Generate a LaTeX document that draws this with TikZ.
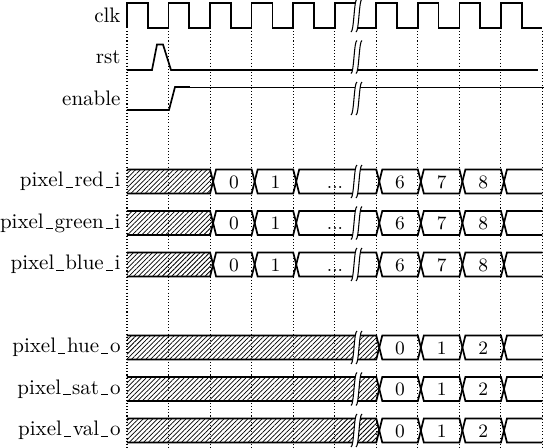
\documentclass[tikz,border=0pt]{standalone}
\usetikzlibrary{patterns.meta}
\tikzset{
  sig/.style={line width=0.8pt},
  thinsig/.style={line width=0.4pt},
  tick/.style={densely dotted, line width=0.5pt},
  hatch/.style={pattern={Lines[angle=45,distance=1.6pt,line width=0.35pt]}},
  lbl/.style={anchor=east, inner sep=0pt},
  val/.style={font=\small, inner sep=0pt, text height=0.65em, text depth=0pt},
  brk/.style={line width=0.5pt},
  pics/gap/.style={code={
    \fill[white] (-5.5,#1) .. controls (-2.5,#1) and (-2.5,-#1) .. (0.5,-#1)
      -- (5.5,-#1) .. controls (2.5,-#1) and (2.5,#1) .. (-0.5,#1) -- cycle;
    \draw[brk] (-5.5,#1) .. controls (-2.5,#1) and (-2.5,-#1) .. (0.5,-#1);
    \draw[brk] (-0.5,#1) .. controls (2.5,#1) and (2.5,-#1) .. (5.5,-#1);
  }}
}
% short underscore for the signal names
\newcommand{\lowbar}{\kern.1em\vrule width .34em height 0pt depth .45pt\kern.08em}
% one value of a bus: from, to, row centre, text, name
\newcommand{\busval}[5]{%
  \draw[sig] ({#1+3},#3) -- ({#1+6},#3-12) -- (#2,#3-12) -- ({#2+3},#3)
    -- (#2,#3+12) -- ({#1+6},#3+12) -- cycle;
  \node[val] (#5) at ({(#1+#2)/2+3},#3) {#4};
}

\begin{document}
\begin{tikzpicture}[x=0.476pt, y=-0.476pt]
  \useasboundingbox (0,0) rectangle (544,448);

  % clock ticks
  \foreach \k in {0,...,10}
    \draw[tick] ({127+41.55*\k},31) -- ({127+41.55*\k},448);

  % labels
  \node[lbl] (clk) at (121,15.5) {clk};
  \node[lbl] (rst) at (121,57) {rst};
  \node[lbl] (enable) at (121,98.5) {enable};
  \node[lbl] (red) at (121,181.5) {pixel\lowbar red\lowbar i};
  \node[lbl] (green) at (121,223) {pixel\lowbar green\lowbar i};
  \node[lbl] (blue) at (121,264.5) {pixel\lowbar blue\lowbar i};
  \node[lbl] (hue) at (121,347.5) {pixel\lowbar hue\lowbar o};
  \node[lbl] (sat) at (121,389) {pixel\lowbar sat\lowbar o};
  \node[lbl] (val) at (121,430.5) {pixel\lowbar val\lowbar o};

  % clk, rst, enable
  \draw[sig] (127,28) \foreach \k in {0,...,4} {
      -- ++(0,-25) -- ++(20.775,0) -- ++(0,25) -- ++(20.775,0) }
    -- ++(0,-25) -- ++(23,0);
  \draw[sig] (353,28) -- (376.3,28) \foreach \k in {1,...,4} {
      -- ++(0,-25) -- ++(20.775,0) -- ++(0,25) -- ++(20.775,0) };
  \draw[sig] (127,70) -- (152,70) -- (157,44.5) -- (163,44.5) -- (171,70) -- (538,70);
  \draw[sig] (127,110) -- (169,110) -- (175,87) -- (190,87);
  \draw[thinsig] (190,87) -- (544,87);
  \pic at (356.5,15.5) {gap=16.5};
  \pic at (356.5,57) {gap=16.5};
  \pic at (356.5,98.5) {gap=16.5};

  % input pixels
  \foreach \yc/\nm in {181.5/r, 223/g, 264.5/b} {
    \path[hatch] (127,\yc-12) -- (210.1,\yc-12) -- (213.1,\yc) -- (210.1,\yc+12) -- (127,\yc+12) -- cycle;
    \draw[sig] (127,\yc-12) -- (210.1,\yc-12) -- (213.1,\yc) -- (210.1,\yc+12) -- (127,\yc+12);
    \busval{210.1}{251.65}{\yc}{0}{\nm0}
    \busval{251.65}{293.2}{\yc}{1}{\nm1}
    \busval{293.2}{376.3}{\yc}{}{\nm gap}
    \node[val] (\nm dots) at (335,\yc) {...};
    \busval{376.3}{417.85}{\yc}{6}{\nm6}
    \busval{417.85}{459.4}{\yc}{7}{\nm7}
    \busval{459.4}{500.95}{\yc}{8}{\nm8}
    \draw[sig] (542.5,\yc-12) -- (506.95,\yc-12) -- (503.95,\yc) -- (506.95,\yc+12) -- (542.5,\yc+12);
    \pic at (356.5,\yc) {gap=16.5};
  }

  % output pixels
  \foreach \yc/\nm in {347.5/h, 389/s, 430.5/v} {
    \path[hatch] (127,\yc-12) -- (376.3,\yc-12) -- (379.3,\yc) -- (376.3,\yc+12) -- (127,\yc+12) -- cycle;
    \draw[sig] (127,\yc-12) -- (376.3,\yc-12) -- (379.3,\yc) -- (376.3,\yc+12) -- (127,\yc+12);
    \pic at (356.5,\yc) {gap=16.5};
    \busval{376.3}{417.85}{\yc}{0}{\nm0}
    \busval{417.85}{459.4}{\yc}{1}{\nm1}
    \busval{459.4}{500.95}{\yc}{2}{\nm2}
    \draw[sig] (542.5,\yc-12) -- (506.95,\yc-12) -- (503.95,\yc) -- (506.95,\yc+12) -- (542.5,\yc+12);
  }
\end{tikzpicture}
\end{document}
